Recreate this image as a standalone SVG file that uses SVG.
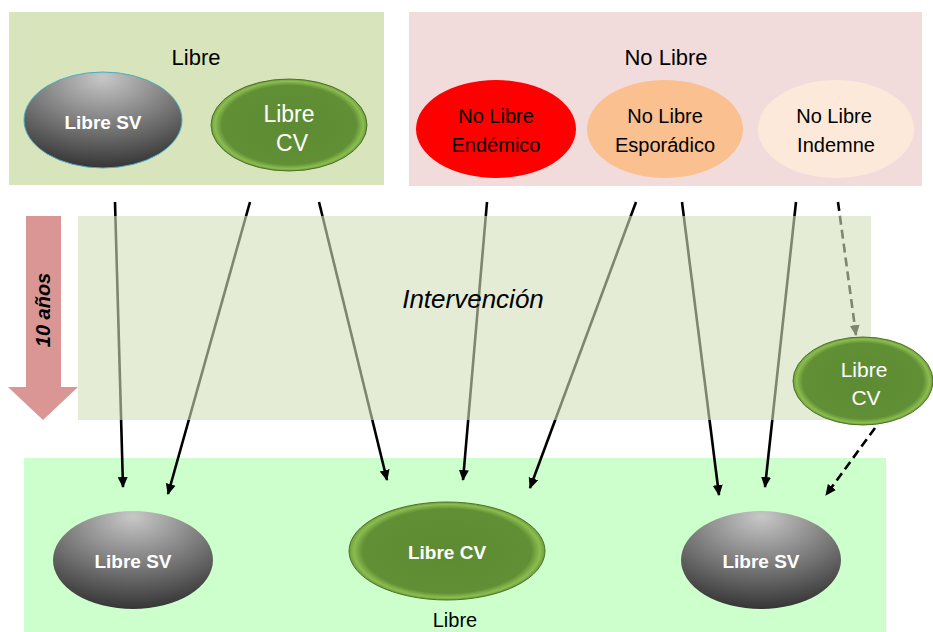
<svg xmlns="http://www.w3.org/2000/svg" width="933" height="632" viewBox="0 0 933 632">
<defs>
<style>
.t{font-family:"Liberation Sans",Arial,sans-serif;text-anchor:middle}
.w{fill:#ffffff}
.b{font-weight:bold}
.c{stroke:#000;stroke-width:2.6;fill:none}
.d{stroke-dasharray:9 5}
</style>
<marker id="ah" markerWidth="12" markerHeight="12" refX="10" refY="5" orient="auto" markerUnits="userSpaceOnUse" viewBox="0 0 12 10">
<path d="M0,0 L11,5 L0,10 Z" fill="#000"/>
</marker>
<radialGradient id="gsv" cx="0.5" cy="0.15" r="0.95" fx="0.5" fy="0.05">
<stop offset="0" stop-color="#c8c8c8"/>
<stop offset="0.55" stop-color="#707070"/>
<stop offset="1" stop-color="#262626"/>
</radialGradient>
<radialGradient id="gcv" cx="0.5" cy="0.5" r="0.5">
<stop offset="0" stop-color="#5d8b33"/>
<stop offset="0.86" stop-color="#618f35"/>
<stop offset="0.95" stop-color="#8bbd4f"/>
<stop offset="1" stop-color="#6f9c3c"/>
</radialGradient>
</defs>

<g id="libre-top-box">
<rect x="9" y="12" width="375" height="173" fill="#d8e4bc"/>
<text class="t" x="196" y="65" font-size="22">Libre</text>
</g>
<g id="nolibre-top-box">
<rect x="409" y="12" width="513" height="174" fill="#f2dcdb"/>
<text class="t" x="666" y="65" font-size="22">No Libre</text>
</g>
<g id="libre-bottom-box">
<rect x="24" y="458" width="862" height="174" fill="#ccffcc"/>
<text class="t" x="455" y="627" font-size="20">Libre</text>
</g>

<g id="connectors">
<line class="c" x1="115" y1="202" x2="123" y2="487" marker-end="url(#ah)"/>
<line class="c" x1="250" y1="202" x2="168" y2="494" marker-end="url(#ah)"/>
<line class="c" x1="319" y1="202" x2="387" y2="480" marker-end="url(#ah)"/>
<line class="c" x1="487" y1="202" x2="463" y2="480" marker-end="url(#ah)"/>
<line class="c" x1="636" y1="202" x2="530" y2="488" marker-end="url(#ah)"/>
<line class="c" x1="682" y1="202" x2="719" y2="495" marker-end="url(#ah)"/>
<line class="c" x1="796" y1="202" x2="765" y2="487" marker-end="url(#ah)"/>
<line class="c d" x1="838" y1="202" x2="856" y2="335" marker-end="url(#ah)"/>
<line class="c d" x1="875" y1="428" x2="826" y2="495" marker-end="url(#ah)"/>
</g>

<g id="intervencion">
<rect x="78" y="216" width="793" height="204" fill="#d2dfbb" fill-opacity="0.6"/>
<text class="t" x="473" y="308" font-size="26" font-style="italic" font-family="'Open Sans',sans-serif">Intervención</text>
</g>

<g id="anos-arrow">
<path d="M26,216 L61,216 L61,387 L78,387 L43,420 L8,387 L26,387 Z" fill="#d99694"/>
<text class="t b" transform="translate(50,310) rotate(-90)" font-size="20" font-style="italic" font-family="'Open Sans',sans-serif">10 años</text>
</g>

<g id="top-libre-sv">
<ellipse cx="103" cy="120" rx="79" ry="48" fill="url(#gsv)" stroke="#4bacc6" stroke-width="1"/>
<text class="t w b" x="103" y="129" font-size="19">Libre SV</text>
</g>
<g id="top-libre-cv">
<ellipse cx="289" cy="125" rx="78" ry="46" fill="url(#gcv)" stroke="#4d7327" stroke-width="1"/>
<text class="t w" x="289" y="122" font-size="23">Libre</text>
<text class="t w" x="292" y="151" font-size="23">CV</text>
</g>
<g id="endemico">
<ellipse cx="496" cy="129" rx="80" ry="49" fill="#ff0000"/>
<text class="t" x="496" y="123" font-size="20">No Libre</text>
<text class="t" x="496" y="152" font-size="20">Endémico</text>
</g>
<g id="esporadico">
<ellipse cx="665" cy="129" rx="78" ry="49" fill="#fac090"/>
<text class="t" x="665" y="123" font-size="20">No Libre</text>
<text class="t" x="665" y="152" font-size="20">Esporádico</text>
</g>
<g id="indemne">
<ellipse cx="836" cy="129" rx="78" ry="49" fill="#fde9d9"/>
<text class="t" x="834" y="123" font-size="20">No Libre</text>
<text class="t" x="836" y="152" font-size="20">Indemne</text>
</g>
<g id="right-libre-cv">
<ellipse cx="863" cy="381" rx="70" ry="44" fill="url(#gcv)" stroke="#4d7327" stroke-width="1"/>
<text class="t w" x="864" y="377" font-size="21">Libre</text>
<text class="t w" x="866" y="405" font-size="21">CV</text>
</g>
<g id="bottom-libre-sv-left">
<ellipse cx="133" cy="560" rx="80" ry="49" fill="url(#gsv)"/>
<text class="t w b" x="133" y="568" font-size="19">Libre SV</text>
</g>
<g id="bottom-libre-cv">
<ellipse cx="447" cy="551" rx="98" ry="49" fill="url(#gcv)" stroke="#4d7327" stroke-width="1"/>
<text class="t w b" x="447" y="559" font-size="19">Libre CV</text>
</g>
<g id="bottom-libre-sv-right">
<ellipse cx="761" cy="560" rx="80" ry="49" fill="url(#gsv)"/>
<text class="t w b" x="761" y="568" font-size="19">Libre SV</text>
</g>
</svg>
